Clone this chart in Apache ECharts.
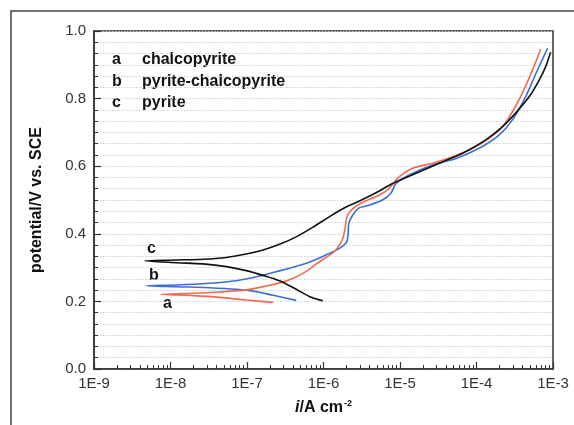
<!DOCTYPE html>
<html>
<head>
<meta charset="utf-8">
<script src="https://cdn.jsdelivr.net/npm/echarts@6/dist/echarts.min.js"></script>
<style>
  html, body { margin: 0; padding: 0; background: #fff; }
  #main { width: 574px; height: 425px; }
</style>
</head>
<body>
<div id="main"></div>
<script>
// 曲线数据 [电流密度 A/cm2, 电位 V]，从阴极支末端 -> 腐蚀电位 -> 阳极支
var chalcopyrite = [
  [2.2e-7, 0.197], [9.8e-8, 0.204], [4.4e-8, 0.212], [2.0e-8, 0.217],
  [7.6e-9, 0.221],
  [2.0e-8, 0.224], [4.4e-8, 0.228], [9.8e-8, 0.234], [1.78e-7, 0.2455],
  [3.24e-7, 0.260], [5.4e-7, 0.283], [8.9e-7, 0.318], [1.38e-6, 0.347],
  [1.74e-6, 0.380], [1.9e-6, 0.411], [2.0e-6, 0.445], [2.24e-6, 0.467],
  [3.0e-6, 0.489], [5.4e-6, 0.515], [7.2e-6, 0.5345], [9.8e-6, 0.569],
  [1.46e-5, 0.594], [2.66e-5, 0.6085], [4.9e-5, 0.628], [8.9e-5, 0.653],
  [1.46e-4, 0.6825], [2.19e-4, 0.717], [2.95e-4, 0.761], [3.98e-4, 0.816],
  [5.4e-4, 0.885], [6.9e-4, 0.946]
];
var pyriteChalcopyrite = [
  [4.4e-7, 0.203], [2.2e-7, 0.218], [1.32e-7, 0.229], [7.2e-8, 0.236],
  [3.2e-8, 0.2405], [1.2e-8, 0.2435],
  [4.9e-9, 0.2465],
  [1.2e-8, 0.2485], [3.2e-8, 0.2535], [7.2e-8, 0.261], [1.46e-7, 0.275],
  [2.4e-7, 0.288], [4.0e-7, 0.301], [6.6e-7, 0.3165], [9.8e-7, 0.333],
  [1.62e-6, 0.357], [2.0e-6, 0.375], [2.09e-6, 0.395], [2.14e-6, 0.431],
  [2.45e-6, 0.458], [2.88e-6, 0.476], [3.63e-6, 0.482], [5.9e-6, 0.500],
  [7.6e-6, 0.520], [8.9e-6, 0.549], [1.32e-5, 0.574], [2.66e-5, 0.6035],
  [5.4e-5, 0.623], [1.08e-4, 0.653], [1.97e-4, 0.692], [2.95e-4, 0.737],
  [4.4e-4, 0.806], [6.0e-4, 0.875], [8.5e-4, 0.949]
];
var pyrite = [
  [9.8e-7, 0.202], [6.6e-7, 0.214], [4.4e-7, 0.236], [2.66e-7, 0.261],
  [1.62e-7, 0.277], [9.8e-8, 0.291], [5.4e-8, 0.303], [2.66e-8, 0.311],
  [1.2e-8, 0.3145],
  [4.6e-9, 0.320],
  [1.2e-8, 0.3225], [2.66e-8, 0.3245], [5.4e-8, 0.330], [9.8e-8, 0.340],
  [1.62e-7, 0.352], [2.66e-7, 0.369], [4.4e-7, 0.391], [7.2e-7, 0.419],
  [1.2e-6, 0.451], [2.0e-6, 0.480], [2.95e-6, 0.497], [5.0e-6, 0.523],
  [8.0e-6, 0.549], [1.62e-5, 0.579], [3.63e-5, 0.613], [7.2e-5, 0.643],
  [1.32e-4, 0.678], [2.19e-4, 0.717], [3.24e-4, 0.757], [4.9e-4, 0.806],
  [6.6e-4, 0.855], [8.0e-4, 0.894], [9.3e-4, 0.937]
];
// 对数轴的次刻度 (2..9 每个十倍程)
var minorTicksX = [];
for (var d = -9; d < -3; d++) {
  for (var k = 2; k <= 9; k++) {
    minorTicksX.push(k * Math.pow(10, d));
  }
}
var legendRows = [['a', 'chalcopyrite'], ['b', 'pyrite-chalcopyrite'], ['c', 'pyrite']];

var FONT = 'Liberation Sans, Arial, sans-serif';
var myChart = echarts.init(document.getElementById('main'));

var graphics = [
  { type: 'rect', shape: { x: 11, y: 11, width: 600, height: 500 },
    style: { fill: 'none', stroke: '#444', lineWidth: 1.5 }, silent: true }
];
for (var r = 0; r < legendRows.length; r++) {
  graphics.push({ type: 'text', left: 112, top: 52 + r * 21.5,
    style: { text: legendRows[r][0], font: 'bold 16px ' + FONT, fill: '#111' } });
  graphics.push({ type: 'text', left: 142, top: 52 + r * 21.5,
    style: { text: legendRows[r][1], font: 'bold 16px ' + FONT, fill: '#111' } });
}
// 曲线标注
graphics.push({ type: 'text', left: 147, top: 241, style: { text: 'c', font: 'bold 16px ' + FONT, fill: '#111' } });
graphics.push({ type: 'text', left: 149, top: 268, style: { text: 'b', font: 'bold 16px ' + FONT, fill: '#111' } });
graphics.push({ type: 'text', left: 163, top: 296, style: { text: 'a', font: 'bold 16px ' + FONT, fill: '#111' } });

var option = {
  animation: false,
  backgroundColor: '#fff',
  grid: {
    left: 94, right: 21, top: 31, bottom: 56,
    show: true, borderColor: '#333', borderWidth: 1.5
  },
  xAxis: [{
    type: 'log', logBase: 10, min: 1e-9, max: 1e-3,
    name: '{i|i}{n|/A cm}{s|-2}',
    nameLocation: 'middle', nameGap: 30,
    nameTextStyle: {
      rich: {
        i: { fontFamily: FONT, fontSize: 16, fontWeight: 'bold', fontStyle: 'italic', color: '#111' },
        n: { fontFamily: FONT, fontSize: 16, fontWeight: 'bold', color: '#111' },
        s: { fontFamily: FONT, fontSize: 9, fontWeight: 'bold', color: '#111', verticalAlign: 'top', padding: [0, 0, 8, 1] }
      }
    },
    axisLine: { show: true, lineStyle: { color: '#333', width: 1.5 } },
    axisTick: { show: true, inside: true, length: 7, lineStyle: { color: '#333', width: 1.2 } },
    axisLabel: {
      margin: 7, fontFamily: FONT, fontSize: 15, color: '#333',
      formatter: function (v) { return '1E' + Math.round(Math.log10(v)); }
    },
    splitLine: { show: false }
  }, {
    type: 'log', logBase: 10, min: 1e-9, max: 1e-3, position: 'bottom',
    axisLine: { show: false },
    axisTick: { show: true, inside: true, length: 4, customValues: minorTicksX, lineStyle: { color: '#333', width: 1 } },
    axisLabel: { show: false },
    splitLine: { show: false }
  }],
  yAxis: {
    type: 'value', min: 0, max: 1, interval: 0.2,
    name: 'potential/V vs. SCE',
    nameLocation: 'middle', nameGap: 49,
    nameTextStyle: { fontFamily: FONT, fontSize: 16, fontWeight: 'bold', color: '#111' },
    axisLine: { show: true, lineStyle: { color: '#333', width: 1.5 } },
    axisTick: { show: true, inside: true, length: 7, lineStyle: { color: '#333', width: 1.2 } },
    minorTick: { show: true, splitNumber: 6, length: 4, lineStyle: { color: '#333', width: 1 } },
    axisLabel: {
      margin: 8, fontFamily: FONT, fontSize: 15, color: '#333',
      formatter: function (v) { return v.toFixed(1); }
    },
    splitLine: { show: true, lineStyle: { color: '#c3d2e0', type: [1.5, 1.5], width: 1 } },
    minorSplitLine: { show: true, lineStyle: { color: '#c3d2e0', type: [1.5, 1.5], width: 1 } }
  },
  series: [
    { name: 'chalcopyrite', type: 'line', data: chalcopyrite, showSymbol: false, smooth: 0.3,
      lineStyle: { color: '#f26b50', width: 1.6 }, z: 3 },
    { name: 'pyrite-chalcopyrite', type: 'line', data: pyriteChalcopyrite, showSymbol: false, smooth: 0.3,
      lineStyle: { color: '#3b6fd4', width: 1.6 }, z: 2 },
    { name: 'pyrite', type: 'line', data: pyrite, showSymbol: false, smooth: 0.3,
      lineStyle: { color: '#111', width: 1.6 }, z: 4 }
  ],
  graphic: graphics
};
myChart.setOption(option);
</script>
</body>
</html>
